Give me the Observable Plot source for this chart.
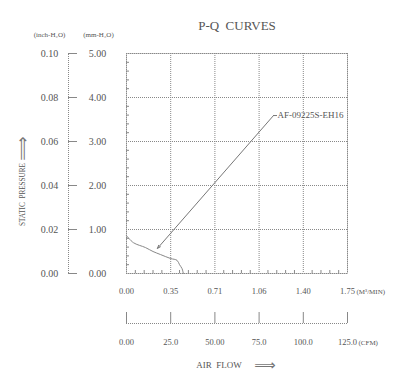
<!DOCTYPE html>
<html><head><meta charset="utf-8">
<script src="https://cdn.jsdelivr.net/npm/d3@7"></script>
<script src="https://cdn.jsdelivr.net/npm/@observablehq/plot@0.6"></script>
<style>body{margin:0;background:#fff}</style>
</head><body><div id="chart"></div>
<script>
// P-Q curve (air flow in m³/min, static pressure in mm-H2O)
const flow = [0, 0.055, 0.15, 0.21, 0.27, 0.35, 0.40, 0.42, 0.44, 0.45];
const pressure = [0.86, 0.70, 0.59, 0.50, 0.43, 0.34, 0.30, 0.20, 0.11, 0];

const xTicks = [0, 0.35, 0.70, 1.05, 1.40, 1.75];
const xLabels = ["0.00", "0.35", "0.71", "1.06", "1.40", "1.75"];
const cfmLabels = ["0.00", "25.0", "50.00", "75.0", "100.0", "125.0"];
const yTicks = [0, 1, 2, 3, 4, 5];
const mmLabels = ["0.00", "1.00", "2.00", "3.00", "4.00", "5.00"];
const inchLabels = ["0.00", "0.02", "0.04", "0.06", "0.08", "0.10"];
const xMinor = [0.07, 0.14, 0.21, 0.28, 0.42, 0.49, 0.56, 0.63, 0.77, 0.84, 0.91, 0.98, 1.12, 1.19, 1.26, 1.33, 1.47, 1.54, 1.61, 1.68];
const yMinor = [0.2, 0.4, 0.6, 0.8, 1.2, 1.4, 1.6, 1.8, 2.2, 2.4, 2.6, 2.8, 3.2, 3.4, 3.6, 3.8, 4.2, 4.4, 4.6, 4.8];

const modelName = "AF-09225S-EH16";
const labelAt = {x: 1.164, y: 3.59};
const pointAt = {x: 0.245, y: 0.57};

const curve = flow.map((f, i) => ({f, p: pressure[i]}));
const gray = "#888";
const dot = "1,1";
const T = {textAnchor: "middle", lineAnchor: "middle"};

const chart = Plot.plot({
  width: 403, height: 381,
  marginLeft: 126, marginRight: 56, marginTop: 53, marginBottom: 108,
  style: {fontFamily: "Liberation Serif", fontSize: "10px", color: "#555", background: "#fff"},
  x: {domain: [0, 1.75], axis: null},
  y: {domain: [0, 5], axis: null},
  marks: [
    Plot.gridX(xTicks, {stroke: gray, strokeOpacity: 1, strokeDasharray: dot}),
    Plot.gridY(yTicks, {stroke: gray, strokeOpacity: 1, strokeDasharray: dot}),
    Plot.frame({stroke: gray, strokeDasharray: dot}),
    // inner minor ticks
    Plot.ruleY(yMinor, {x1: 0, x2: 0, insetRight: -3, stroke: gray}),
    Plot.ruleX(xMinor, {y1: 0, y2: 0, insetTop: -3, stroke: gray}),
    // curve
    Plot.line(curve, {x: "f", y: "p", stroke: gray, strokeWidth: 1, curve: "catmull-rom"}),
    // annotation
    Plot.arrow([0], {x1: labelAt.x, y1: labelAt.y, x2: pointAt.x, y2: pointAt.y, stroke: "#777", strokeWidth: 1, headLength: 5, headAngle: 40}),
    Plot.ruleY([labelAt.y], {x1: labelAt.x, x2: labelAt.x, insetRight: -4, stroke: "#777"}),
    Plot.text([modelName], {x: labelAt.x, y: labelAt.y, dx: 4, textAnchor: "start", lineAnchor: "middle", fontSize: 9}),
    // left secondary axis
    Plot.ruleX([0], {y1: 0, y2: 5, dx: -58, stroke: gray, strokeDasharray: dot}),
    Plot.ruleY(yTicks, {x1: 0, x2: 0, dx: -58, insetRight: -9, stroke: gray}),
    Plot.text(yTicks, {x: 0, y: d => d, text: (d, i) => mmLabels[i], dx: -29, ...T}),
    Plot.text(yTicks, {x: 0, y: d => d, text: (d, i) => inchLabels[i], dx: -77, ...T}),
    Plot.text(["(inch-H₂O)"], {frameAnchor: "top-left", dx: -77, dy: -19, fontSize: 7, ...T}),
    Plot.text(["(mm-H₂O)"], {frameAnchor: "top-left", dx: -28, dy: -19, fontSize: 7, ...T}),
    Plot.text(["STATIC  PRESSURE"], {frameAnchor: "left", dx: -104, dy: 31, rotate: -90, fontSize: 9, ...T}),
    Plot.text(["⟹"], {frameAnchor: "left", dx: -104, dy: -15, rotate: -90, fontSize: 17, fontFamily: "DejaVu Sans", fill: "#777", ...T}),
    // bottom m³/min labels
    Plot.text(xTicks, {x: d => d, text: (d, i) => xLabels[i], frameAnchor: "bottom", dy: 18, fontSize: 8.5, ...T}),
    Plot.text(["(M³/MIN)"], {frameAnchor: "bottom-right", dx: 9, dy: 18, fontSize: 7, textAnchor: "start", lineAnchor: "middle"}),
    // CFM axis
    Plot.ruleY([0], {dy: 50, stroke: gray, strokeDasharray: dot}),
    Plot.ruleX(xTicks, {y1: 0, y2: 0, insetTop: -11, dy: 50, stroke: gray}),
    Plot.text(xTicks, {x: d => d, text: (d, i) => cfmLabels[i], frameAnchor: "bottom", dy: 69, fontSize: 8.5, ...T}),
    Plot.text(["(CFM)"], {frameAnchor: "bottom-right", dx: 11, dy: 69, fontSize: 7, textAnchor: "start", lineAnchor: "middle"}),
    Plot.text(["AIR  FLOW"], {frameAnchor: "bottom", dx: -18, dy: 92, fontSize: 9, ...T}),
    Plot.text(["⟹"], {frameAnchor: "bottom", dx: 28, dy: 92, fontSize: 15, fontFamily: "DejaVu Sans", fill: "#777", ...T}),
    // title
    Plot.text(["P-Q  CURVES"], {frameAnchor: "top", dy: -28, fontSize: 13, ...T})
  ]
});
// condense the vertical label to the reference's narrow lettering
d3.select(chart).selectAll("text").filter(function() { return this.textContent === "STATIC  PRESSURE"; })
  .attr("textLength", 63).attr("lengthAdjust", "spacingAndGlyphs");
document.getElementById("chart").appendChild(chart);
</script>
</body></html>
